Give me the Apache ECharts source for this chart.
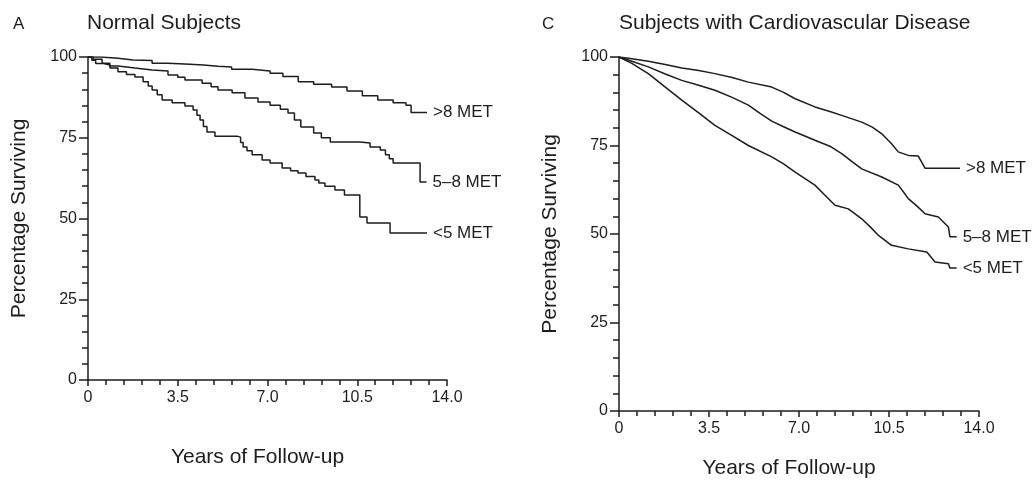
<!DOCTYPE html>
<html>
<head>
<meta charset="utf-8">
<script src="https://cdn.jsdelivr.net/npm/echarts@6/dist/echarts.min.js"></script>
<style>
html,body{margin:0;padding:0;background:#fff;}
#chart{width:1035px;height:480px;}
</style>
</head>
<body>
<div id="chart"></div>
<script>
// ---- Data (years of follow-up, percentage surviving) ----
const panelTitles = ['Normal Subjects', 'Subjects with Cardiovascular Disease'];
const panelLetters = ['A', 'C'];
const seriesNames = ['>8 MET', '5\u20138 MET', '<5 MET'];
const xTickLabels = ['0', '3.5', '7.0', '10.5', '14.0'];
const yTickLabels = ['0', '25', '50', '75', '100'];

// Panel A: Normal subjects
const normalHigh = [[0,100],[0.5,99.6],[1.17,99.1],[1.75,98.9],[2.5,98.1],[3.1,97.8],[3.78,97.5],[4.5,97.1],[5.07,96.9],[5.6,96.2],[6.4,95.7],[7.1,95.0],[7.6,94.0],[8.2,92.3],[8.8,91.6],[9.5,90.7],[10.1,89.5],[10.7,88.0],[11.3,86.7],[11.9,85.8],[12.4,85.1],[12.6,82.8],[13.22,82.8]];
const normalMid = [[0,100],[0.2,99.3],[0.55,98.1],[0.85,97.2],[1.17,96.6],[1.83,96.0],[2.5,95.7],[3.12,94.4],[3.5,93.7],[3.78,92.9],[4.45,91.9],[4.8,90.8],[5.07,89.8],[5.62,88.9],[6.12,87.3],[6.63,86.1],[7.1,85.1],[7.5,83.8],[7.8,82.7],[8.05,80.5],[8.3,78.3],[8.8,76.5],[9.1,75.0],[9.45,73.7],[10.6,73.4],[11.0,72.1],[11.4,71.2],[11.6,69.7],[11.75,68.5],[11.9,67.2],[12.95,61.3],[13.2,61.3]];
const normalLow = [[0,100],[0.15,99.0],[0.3,98.0],[0.6,97.5],[0.86,96.6],[1.17,95.4],[1.5,94.6],[1.83,93.8],[2.15,92.3],[2.35,91.0],[2.5,89.8],[2.7,88.3],[2.89,86.7],[3.28,85.8],[3.78,84.8],[4.1,83.6],[4.25,82.0],[4.37,80.5],[4.5,78.5],[4.64,76.8],[4.95,75.5],[5.81,75.2],[5.95,73.5],[6.05,72.1],[6.2,71.0],[6.4,69.7],[6.79,68.1],[7.1,67.2],[7.57,65.6],[7.9,64.8],[8.19,64.1],[8.5,63.0],[8.85,61.9],[9.0,61.0],[9.24,60.0],[9.63,58.8],[10.0,57.3],[10.6,50.5],[10.88,48.6],[11.78,45.5],[13.22,45.5]];

// Panel C: Subjects with cardiovascular disease
const cvdHigh = [[0,100],[0.5,99.5],[1.14,98.8],[1.8,97.9],[2.44,96.9],[3.1,96.2],[3.73,95.3],[4.4,94.2],[5.03,92.9],[5.94,91.5],[6.4,90.0],[6.85,88.2],[7.62,85.9],[8.2,84.6],[8.66,83.5],[9.44,81.6],[9.85,80.2],[10.22,78.3],[10.6,75.5],[10.86,73.2],[11.25,72.2],[11.64,72.0],[11.9,68.6],[13.26,68.6]];
const cvdMid = [[0,100],[0.5,98.8],[1.14,97.2],[1.8,95.2],[2.44,93.4],[3.1,92.0],[3.73,90.6],[4.4,88.6],[5.03,86.4],[5.5,84.0],[5.94,81.9],[6.4,80.3],[6.85,78.8],[7.62,76.5],[8.2,74.8],[8.66,72.7],[9.05,70.5],[9.44,68.4],[10.22,66.1],[10.86,63.8],[11.05,62.0],[11.25,60.0],[11.6,57.8],[11.9,55.7],[12.42,54.8],[12.81,52.0],[12.87,49.2],[13.13,49.2]];
const cvdLow = [[0,100],[0.5,98.2],[1.14,95.3],[1.8,91.5],[2.44,87.8],[3.1,84.2],[3.73,80.7],[4.4,77.8],[5.03,75.0],[5.94,71.8],[6.4,69.8],[6.85,67.5],[7.62,63.8],[8.0,61.0],[8.4,58.1],[8.92,57.1],[9.44,54.3],[9.8,51.8],[10.09,49.6],[10.6,46.8],[11.25,45.8],[11.97,44.9],[12.29,42.1],[12.81,41.6],[12.87,40.4],[13.13,40.4]];

// ---- Chart ----
const INK = '#1e1c1d';
const FONT = '"Liberation Sans", Arial, Helvetica, sans-serif';
const chart = echarts.init(document.getElementById('chart'), null, {renderer: 'canvas'});

function xAxisFor(gi) {
  return {
    gridIndex: gi, type: 'value', min: 0, max: 14, interval: 3.5,
    name: 'Years of Follow-up', nameLocation: 'middle',
    nameGap: gi === 0 ? 67 : 47,
    nameTextStyle: {color: INK, fontSize: 21, fontFamily: FONT, padding: [0, 20, 0, 0]},
    axisLine: {show: true, onZero: false, lineStyle: {color: INK, width: 1.5}},
    axisTick: {show: true, length: 6, lineStyle: {color: INK, width: 1.5}},
    minorTick: {show: true, splitNumber: 5, length: 5, lineStyle: {color: INK, width: 1.5}},
    axisLabel: {color: INK, fontSize: 16, fontFamily: FONT, margin: 10,
      formatter: v => xTickLabels[Math.round(v / 3.5)]},
    splitLine: {show: false}
  };
}
function yAxisFor(gi) {
  return {
    gridIndex: gi, type: 'value', min: 0, max: 100, interval: 25,
    name: 'Percentage Surviving', nameLocation: 'middle', nameGap: 58,
    nameTextStyle: {color: INK, fontSize: 21, fontFamily: FONT},
    axisLine: {show: true, onZero: false, lineStyle: {color: INK, width: 1.5}},
    axisTick: {show: true, length: 9, lineStyle: {color: INK, width: 1.5}},
    minorTick: {show: true, splitNumber: 5, length: 6, lineStyle: {color: INK, width: 1.5}},
    axisLabel: {color: INK, fontSize: 16, fontFamily: FONT, margin: 11,
      formatter: v => yTickLabels[Math.round(v / 25)]},
    splitLine: {show: false}
  };
}
function line(name, data, gi, step) {
  return {
    type: 'line', name: name, data: data, xAxisIndex: gi, yAxisIndex: gi,
    step: step ? 'end' : false, showSymbol: false, symbol: 'none',
    lineStyle: {color: INK, width: 1.5},
    endLabel: {show: true, formatter: name, color: INK, fontSize: 17, fontFamily: FONT, distance: 6},
    animation: false
  };
}

const titleStyle = size => ({color: INK, fontSize: size, fontWeight: 'normal', fontFamily: FONT});
const option = {
  backgroundColor: '#fff',
  animation: false,
  textStyle: {fontFamily: FONT},
  title: [
    {text: panelLetters[0], left: 13, top: 16, padding: 0, textStyle: titleStyle(17)},
    {text: panelTitles[0], left: 87, top: 13, padding: 0, textStyle: titleStyle(21)},
    {text: panelLetters[1], left: 542, top: 16, padding: 0, textStyle: titleStyle(17)},
    {text: panelTitles[1], left: 619, top: 13, padding: 0, textStyle: titleStyle(21)}
  ],
  grid: [
    {left: 88, top: 57, width: 359, height: 323, outerBoundsMode: 'none', containLabel: false},
    {left: 619, top: 57, width: 360, height: 354, outerBoundsMode: 'none', containLabel: false}
  ],
  xAxis: [xAxisFor(0), xAxisFor(1)],
  yAxis: [yAxisFor(0), yAxisFor(1)],
  series: [
    line(seriesNames[0], normalHigh, 0, true),
    line(seriesNames[1], normalMid, 0, true),
    line(seriesNames[2], normalLow, 0, true),
    line(seriesNames[0], cvdHigh, 1, false),
    line(seriesNames[1], cvdMid, 1, false),
    line(seriesNames[2], cvdLow, 1, false)
  ]
};
chart.setOption(option);
</script>
</body>
</html>
